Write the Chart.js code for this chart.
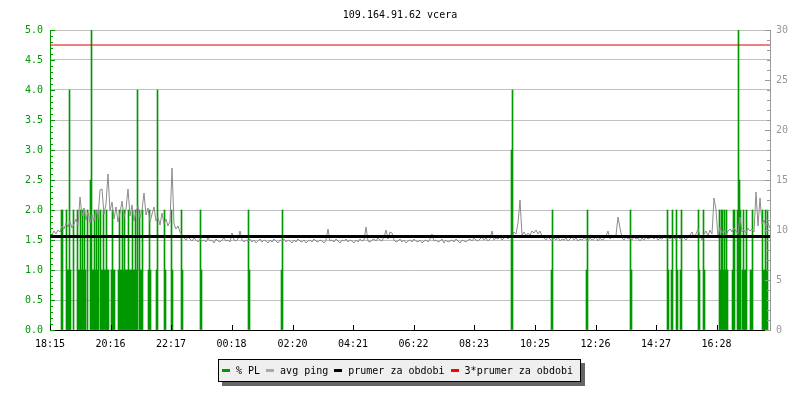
<!DOCTYPE html>
<html>
<head>
<meta charset="utf-8">
<title>109.164.91.62 vcera</title>
<script src="https://cdn.jsdelivr.net/npm/chart.js@4.4.1/dist/chart.umd.min.js"></script>
<style>
  html, body { margin: 0; padding: 0; background: #fff; }
  #wrap { position: relative; width: 800px; height: 400px; }
  #legend {
    position: absolute; left: 218px; top: 359px;
    box-sizing: border-box; width: 363px; height: 23px;
    border: 1px solid #000; background: #efefef;
    box-shadow: 4px 4px 0 #666;
    display: flex; align-items: center; padding-left: 3px;
    font: 10px "DejaVu Sans Mono", monospace; color: #000; white-space: nowrap;
  }
  .lg-item { display: flex; align-items: center; margin-right: 6px; }
  .lg-swatch { width: 8px; height: 3px; margin-right: 6px; }
</style>
</head>
<body>
<div id="wrap">
  <canvas id="chart" width="800" height="400"></canvas>
  <div id="legend"></div>
</div>
<script>
// ═══════════════════════════════════════
// DATA
// ═══════════════════════════════════════
const chartTitle = '109.164.91.62 vcera';
const tickLabels = ['18:15', '20:16', '22:17', '00:18', '02:20', '04:21',
                    '06:22', '08:23', '10:25', '12:26', '14:27', '16:28'];

// avg ping [ms], one sample every 4 minutes starting 18:15
const PING_STEP = 4;
const pingValues = [
  9.7, 9.5, 9.9, 9.6, 10.0, 9.8, 10.4, 10.1, 10.7, 10.3,
  10.9, 10.2, 10.6, 11.1, 10.5, 13.3, 11.4, 12.2, 11.0, 11.8,
  10.7, 11.5, 10.9, 12.0, 11.2, 14.0, 14.1, 11.6, 12.6, 15.6,
  11.9, 12.8, 11.1, 12.3, 10.8, 11.7, 12.9, 11.3, 12.1, 14.1,
  11.4, 12.5, 10.9, 11.8, 12.4, 11.2, 12.0, 13.7, 11.5, 12.2,
  10.8, 11.6, 12.3, 10.9, 11.3, 10.5, 11.7, 10.6, 11.1, 10.4,
  10.9, 16.2, 10.6, 10.1, 10.4, 9.8, 9.5, 9.2, 9.0, 9.3,
  9.1, 8.9, 9.2, 9.0, 8.8, 9.1, 8.9, 9.0, 8.8, 9.2,
  8.9, 9.0, 8.7, 9.1, 8.9, 8.8, 9.0, 9.2, 8.9, 9.0,
  8.8, 9.7, 9.0, 8.9, 9.1, 9.9, 9.0, 8.8, 9.0, 8.9,
  9.1, 8.8, 9.0, 8.7, 8.9, 9.1, 8.8, 9.0, 8.9, 8.7,
  9.0, 8.8, 9.1, 8.9, 8.7, 9.0, 8.9, 9.1, 8.8, 9.0,
  8.9, 8.7, 9.0, 8.8, 9.1, 8.9, 8.8, 9.0, 8.7, 8.9,
  9.0, 8.8, 9.1, 8.9, 8.8, 9.0, 8.9, 8.7, 9.0, 10.1,
  8.9, 9.0, 8.8, 9.1, 8.9, 8.7, 9.0, 8.9, 9.1, 8.8,
  9.0, 8.9, 8.7, 9.0, 8.8, 9.1, 8.9, 9.0, 10.3, 8.9,
  8.8, 9.0, 9.1, 8.9, 9.2, 9.0, 8.9, 9.3, 10.0, 9.1,
  9.8, 9.7, 9.0, 8.8, 8.9, 9.1, 8.8, 9.0, 8.7, 8.9,
  9.0, 8.8, 9.1, 8.9, 8.8, 9.0, 8.7, 8.9, 9.0, 8.8,
  9.1, 9.6, 8.9, 9.0, 8.8, 8.9, 9.1, 8.7, 9.0, 8.8,
  8.9, 9.0, 8.8, 9.1, 8.9, 8.7, 9.0, 8.9, 8.8, 9.0,
  9.1, 8.9, 9.2, 9.0, 8.9, 9.1, 9.3, 9.0, 9.2, 8.9,
  9.1, 9.9, 9.0, 9.2, 9.1, 9.3, 9.0, 9.2, 9.4, 9.1,
  9.5, 9.3, 9.8, 9.6, 10.7, 13.0, 9.5, 9.8, 9.4, 9.7,
  9.5, 9.9, 9.7, 10.0, 9.6, 9.9, 9.4, 9.2, 9.0, 9.3,
  9.1, 8.9, 9.2, 9.0, 9.3, 8.9, 9.1, 9.0, 9.2, 8.9,
  9.1, 9.3, 9.0, 9.2, 8.9, 9.1, 9.0, 9.2, 9.1, 8.9,
  9.2, 9.0, 9.1, 9.3, 8.9, 9.2, 9.0, 9.1, 9.4, 9.9,
  9.1, 9.3, 9.2, 9.5, 11.3, 10.2, 9.2, 9.0, 9.3, 9.1,
  9.2, 9.0, 9.3, 9.1, 9.2, 8.9, 9.2, 9.0, 9.3, 9.1,
  9.2, 9.4, 9.1, 9.3, 9.0, 9.2, 9.1, 9.3, 9.2, 9.4,
  9.1, 9.3, 9.2, 9.0, 9.3, 9.1, 9.4, 9.2, 9.0, 9.3,
  9.5, 9.8, 9.3, 9.6, 10.1, 9.4, 9.0, 9.6, 9.9, 9.4,
  10.0, 9.6, 13.2, 12.0, 9.3, 10.3, 9.7, 10.0, 9.5, 9.9,
  10.1, 9.8, 10.2, 9.9, 9.6, 11.3, 9.8, 10.0, 9.7, 10.2,
  9.9, 10.1, 9.8, 13.8, 10.4, 13.2, 10.6, 11.0, 10.3, 10.7,
  10.2
];

// packet loss [%], minutes after 18:15 where loss was seen
const plMinutes = [
  23, 25, 33, 35, 37, 39, 41, 47,
  55, 57, 59, 61, 63, 65, 67, 69, 71, 75,
  81, 83, 85, 87, 89, 91, 93, 95, 97,
  101, 103, 105, 107, 109, 111, 113, 115, 117,
  123, 125, 127, 129,
  137, 139, 141, 143, 145, 147, 149, 151, 153, 155, 157, 159, 161, 163, 165, 167, 169, 171, 173, 175,
  179, 181, 183, 185, 197, 199, 201, 213, 215, 229, 231, 243, 245, 263, 265,
  301, 303, 397, 399, 463, 465, 923, 925, 1003, 1005, 1073, 1075, 1161, 1163,
  1235, 1237, 1243, 1245, 1253, 1255, 1261, 1263, 1297, 1299, 1307, 1309,
  1339, 1341, 1343, 1345, 1347, 1349, 1351, 1353, 1355, 1365, 1367, 1369,
  1375, 1377, 1379, 1381, 1385, 1387, 1389, 1391, 1393, 1401, 1403, 1405,
  1425, 1427, 1429, 1431, 1433, 1435
];
const plValues = [
  2, 2, 2, 1, 1, 4, 1, 2,
  2, 1, 1, 2, 1, 2, 1, 2, 1, 2,
  2.5, 5, 1, 1, 2, 1, 2, 1, 2,
  2, 1, 1, 2, 1, 1, 2, 1, 1,
  1, 2, 1, 1,
  1, 2, 1, 1, 2, 1, 2, 1, 1, 1, 2, 1, 1, 1, 2, 1, 1, 2, 1, 4,
  2, 1, 1, 2, 1, 2, 1, 1, 4, 2, 1, 2, 1, 2, 1,
  2, 1, 2, 1, 1, 2, 3, 4, 1, 2, 1, 2, 2, 1,
  2, 1, 1, 2, 2, 1, 1, 2, 2, 1, 2, 1,
  2, 1, 2, 2, 1, 2, 1, 2, 1, 1, 2, 2,
  2, 5, 2.5, 2, 1, 2, 1, 1, 2, 1, 1, 2,
  2, 1, 1, 2, 1, 2
];

const avgPing = 9.35;     // prumer za obdobi
const tripleAvg = 28.5;   // 3*prumer za obdobi

// ═══════════════════════════════════════
// STYLE
// ═══════════════════════════════════════
const FONT = '"DejaVu Sans Mono", monospace';
const PL_COLOR = '#009900';
const PING_COLOR = '#8c8c8c';
const AVG_COLOR = '#000000';
const TRIPLE_COLOR = '#dd0000';
const DAY = 1440;

const startMin = (() => {
  const [h, m] = tickLabels[0].split(':').map(Number);
  return h * 60 + m;
})();
function minutesFromStart(label) {
  const [h, m] = label.split(':').map(Number);
  return (h * 60 + m - startMin + DAY) % DAY;
}
const tickMinutes = tickLabels.map(minutesFromStart);

// inward tick marks on the three axes
const axisTicks = {
  id: 'axisTicks',
  afterDraw(chart) {
    const { ctx, chartArea: a, scales } = chart;
    ctx.save();
    ctx.lineWidth = 1;

    ctx.strokeStyle = PL_COLOR;
    for (let k = 0; k <= 50; k++) {
      const y = Math.round(scales.yPL.getPixelForValue(k / 10)) + 0.5;
      const len = k % 5 === 0 ? 5 : 3;
      ctx.beginPath(); ctx.moveTo(a.left, y); ctx.lineTo(a.left + len, y); ctx.stroke();
    }

    ctx.strokeStyle = '#999999';
    for (let k = 0; k <= 30; k++) {
      const y = Math.round(scales.yPing.getPixelForValue(k)) + 0.5;
      const len = k % 5 === 0 ? 5 : 3;
      ctx.beginPath(); ctx.moveTo(a.right, y); ctx.lineTo(a.right - len, y); ctx.stroke();
    }

    ctx.strokeStyle = '#000';
    tickMinutes.forEach(m => {
      const x = Math.round(scales.x.getPixelForValue(m)) + 0.5;
      ctx.beginPath(); ctx.moveTo(x, a.bottom); ctx.lineTo(x, a.bottom - 5); ctx.stroke();
    });
    ctx.restore();
  }
};

// ═══════════════════════════════════════
// CHART
// ═══════════════════════════════════════
const datasets = [
  {
    type: 'bar', label: '% PL', yAxisID: 'yPL', order: 3,
    data: plMinutes.map((m, i) => ({ x: m, y: plValues[i] })),
    backgroundColor: PL_COLOR, borderWidth: 0, barThickness: 1
  },
  {
    type: 'line', label: 'avg ping', yAxisID: 'yPing', order: 2,
    data: pingValues.map((v, i) => ({ x: i * PING_STEP, y: v })),
    borderColor: PING_COLOR, borderWidth: 1, pointRadius: 0, tension: 0, fill: false
  },
  {
    type: 'line', label: 'prumer za obdobi', yAxisID: 'yPing', order: 1,
    data: [{ x: 0, y: avgPing }, { x: DAY, y: avgPing }],
    borderColor: AVG_COLOR, borderWidth: 3, pointRadius: 0
  },
  {
    type: 'line', label: '3*prumer za obdobi', yAxisID: 'yPing', order: 0,
    data: [{ x: 0, y: tripleAvg }, { x: DAY, y: tripleAvg }],
    borderColor: TRIPLE_COLOR, borderWidth: 1, pointRadius: 0
  }
];

const chart = new Chart(document.getElementById('chart'), {
  type: 'bar',
  data: { datasets },
  options: {
    responsive: false,
    animation: false,
    devicePixelRatio: 1,
    layout: { padding: { left: 0, right: 0, top: 0, bottom: 50 } },
    plugins: {
      legend: { display: false },
      tooltip: { enabled: false },
      title: {
        display: true, text: chartTitle, color: '#000',
        font: { family: FONT, size: 10, weight: 'normal', lineHeight: 1.2 },
        padding: { top: 9, bottom: 9 }
      }
    },
    scales: {
      x: {
        type: 'linear', min: 0, max: DAY, offset: false,
        grid: { display: false },
        border: { color: '#000', width: 1 },
        afterFit: s => { s.height = 20; },
        afterBuildTicks: s => { s.ticks = tickMinutes.map(v => ({ value: v })); },
        ticks: {
          autoSkip: false, maxRotation: 0, padding: 0, color: '#000',
          font: { family: FONT, size: 10 },
          callback: v => tickLabels[tickMinutes.indexOf(v)]
        }
      },
      yPL: {
        type: 'linear', position: 'left', min: 0, max: 5,
        grid: { color: '#c0c0c0', drawTicks: false },
        border: { color: PL_COLOR, width: 1 },
        afterFit: s => { s.width = 50; },
        ticks: {
          stepSize: 0.5, padding: 7, color: PL_COLOR,
          font: { family: FONT, size: 10 },
          callback: v => v.toFixed(1)
        }
      },
      yPing: {
        type: 'linear', position: 'right', min: 0, max: 30,
        grid: { display: false, drawTicks: false },
        border: { color: '#999999', width: 1 },
        afterFit: s => { s.width = 30; },
        ticks: {
          stepSize: 5, padding: 6, color: '#999999',
          font: { family: FONT, size: 10 }
        }
      }
    }
  },
  plugins: [axisTicks]
});

// HTML legend in the old rrd style
(function buildLegend() {
  const box = document.getElementById('legend');
  const swatch = { '% PL': PL_COLOR, 'avg ping': '#aaaaaa',
                   'prumer za obdobi': AVG_COLOR, '3*prumer za obdobi': '#ff0000' };
  chart.data.datasets.forEach(ds => {
    const item = document.createElement('span');
    item.className = 'lg-item';
    item.innerHTML = `<span class="lg-swatch" style="background:${swatch[ds.label]}"></span><span>${ds.label}</span>`;
    box.appendChild(item);
  });
})();
</script>
</body>
</html>
